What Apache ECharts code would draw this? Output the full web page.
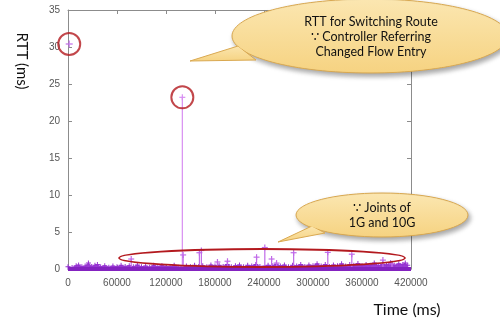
<!DOCTYPE html>
<html><head><meta charset="utf-8">
<script src="https://cdn.jsdelivr.net/npm/echarts@6/dist/echarts.min.js"></script>
<style>html,body{margin:0;padding:0;background:#fff}#c{width:500px;height:322px}</style>
</head><body><div id="c"></div>
<script>
// ---- data ----
const xTicks = [0, 60000, 120000, 180000, 240000, 300000, 360000, 420000];
const yTicks = [0, 5, 10, 15, 20, 25, 30, 35];
// background RTT noise [time ms, rtt ms]
const noise = [
[0,0.3],[5000,0.2],[10000,0.45],[13000,0.55],[17000,0.3],[21000,0.4],[25000,0.8],[29000,0.35],[33000,0.5],[36000,0.6],
[40000,0.3],[45000,0.45],[50000,0.25],[55000,0.4],[60000,0.3],[65000,0.5],[70000,0.35],[75000,0.45],[80000,0.3],[85000,0.55],
[90000,0.3],[95000,0.4],[100000,0.25],[105000,0.5],[110000,0.3],[115000,0.45],[120000,0.35],[125000,0.3],[130000,0.5],[135000,0.25],
[145000,0.4],[150000,0.3],[155000,0.5],[160000,0.35],[165000,0.45],[170000,0.3],[175000,0.55],[180000,0.4],[185000,0.5],[190000,0.35],
[195000,0.6],[200000,0.3],[205000,0.45],[210000,0.55],[215000,0.3],[220000,0.5],[225000,0.4],[230000,0.6],[235000,0.35],[245000,0.5],
[250000,0.45],[255000,0.65],[260000,0.4],[265000,0.55],[270000,0.3],[275000,0.5],[280000,0.4],[285000,0.6],[290000,0.35],[295000,0.55],
[300000,0.45],[305000,0.7],[310000,0.4],[315000,0.6],[320000,0.35],[325000,0.55],[330000,0.45],[335000,0.7],[340000,0.4],[345000,0.6],
[350000,0.5],[355000,0.75],[360000,0.45],[365000,0.6],[370000,0.5],[375000,0.8],[380000,0.45],[385000,0.65],[390000,0.55],[395000,0.85],
[400000,0.5],[405000,0.7],[410000,0.6],[413000,0.8],[416000,0.5]
];
// impulse spikes [time ms, rtt ms]
const spikes = [
[77400,1.35],[140000,23.2],[141000,1.9],[160900,2.2],[163300,2.5],[183000,0.95],[195300,1.05],
[230900,1.6],[241000,2.9],[249300,1.35],[255400,0.8],[276300,2.2],[318100,2.25],[347500,2.0],
[385600,1.2],[396700,0.7]
];
// first sample (route switching at start)
const startPoint = [[1500,30.4]];
// circled samples
const circled = [[1500,30.4],[140000,23.2]];

const plus = 'path://M4,0h2v4h4v2h-4v4h-2v-4h-4v-2h4z';
const axisGray = '#8c8c8c';
const lab = {color:'#555', fontSize:10, fontFamily:'Liberation Sans, Arial'};

const chart = echarts.init(document.getElementById('c'), null, {renderer:'canvas'});

function bubble(cx, cy, rx, ry, tail, z){
  const fill = new echarts.graphic.LinearGradient(0,0,0,1,[{offset:0,color:'#fbe6b0'},{offset:1,color:'#f6d382'}]);
  return [
    {type:'ellipse', shape:{cx, cy, rx, ry}, z:z, style:{fill, stroke:'#d9a850', lineWidth:1, shadowBlur:5, shadowOffsetX:2, shadowOffsetY:3, shadowColor:'rgba(0,0,0,0.35)'}},
    {type:'polygon', shape:{points:tail}, z:z+1, style:{fill, stroke:'#d9a850', lineWidth:1}},
    {type:'ellipse', shape:{cx, cy, rx:rx-1, ry:ry-1}, z:z+2, style:{fill}}
  ];
}

const axisCommon = {
  axisLine:{onZero:false, lineStyle:{color:axisGray}},
  axisTick:{show:true, inside:true, length:4, lineStyle:{color:axisGray}},
  splitLine:{show:false}
};

const option = {
  animation:false,
  grid:{left:68, right:89, top:10, bottom:53},
  xAxis:[
    Object.assign({type:'value', min:0, max:420000, interval:60000, position:'bottom',
     axisLabel:Object.assign({margin:9, formatter:v=>String(v)}, lab)}, axisCommon),
    Object.assign({type:'value', min:0, max:420000, interval:60000, position:'top',
     axisLabel:{show:false}}, axisCommon)
  ],
  yAxis:[
    Object.assign({type:'value', min:0, max:35, interval:5, position:'left',
     axisLabel:Object.assign({margin:8}, lab)}, axisCommon, {axisLine:{show:true, onZero:false, lineStyle:{color:axisGray}}}),
    Object.assign({type:'value', min:0, max:35, interval:5, position:'right',
     axisLabel:{show:false}}, axisCommon, {axisLine:{show:true, onZero:false, lineStyle:{color:axisGray}}})
  ],
  series:[
    {type:'line', data:noise, symbol:plus, symbolSize:5, showSymbol:true,
     lineStyle:{color:'#9632d2', width:1}, itemStyle:{color:'#9632d2'},
     areaStyle:{color:'#9a3cd4', opacity:1}, z:3,
     markLine:{silent:true, symbol:'none', label:{show:false},
       lineStyle:{color:'#8422c0', width:4, type:'solid'}, data:[{yAxis:0}]}},
    {type:'custom', data:spikes, z:4,
     renderItem:function(params, api){
       const t = api.value(0), v = api.value(1);
       const p0 = api.coord([t,0]), p1 = api.coord([t,v]);
       const col = v > 10 ? '#d88ef2' : '#c06ae8';
       return {type:'group', children:[
         {type:'line', shape:{x1:p0[0],y1:p0[1],x2:p1[0],y2:p1[1]}, style:{stroke:col, lineWidth:1.2}},
         {type:'line', shape:{x1:p1[0]-3,y1:p1[1],x2:p1[0]+3,y2:p1[1]}, style:{stroke:col, lineWidth:1.2}},
         {type:'line', shape:{x1:p1[0],y1:p1[1]-3,x2:p1[0],y2:p1[1]+3}, style:{stroke:col, lineWidth:1.2}}
       ]};
     }},
    {type:'scatter', data:startPoint, symbol:plus, symbolSize:7, itemStyle:{color:'#c06ae8'}, z:5},
    {type:'scatter', data:circled, symbol:'circle', symbolSize:22, z:6,
     itemStyle:{color:'rgba(0,0,0,0)', borderColor:'#b3191e', borderWidth:2}}
  ],
  graphic:[
    {type:'ellipse', shape:{cx:262, cy:258, rx:143, ry:9}, z:20, style:{fill:'none', stroke:'#b3191e', lineWidth:1.8}},
    ...bubble(370, 36, 138, 37, [[238,46],[190,61],[256,60]], 30),
    {type:'text', x:371, y:22, z:40, style:{text:'RTT for Switching Route', fill:'#111', font:'12.5px Lato', textAlign:'center', textVerticalAlign:'middle'}},
    {type:'text', x:371, y:37, z:40, style:{text:'∵ Controller Referring', fill:'#111', font:'12.5px Lato', textAlign:'center', textVerticalAlign:'middle'}},
    {type:'text', x:371, y:52, z:40, style:{text:'Changed Flow Entry', fill:'#111', font:'12.5px Lato', textAlign:'center', textVerticalAlign:'middle'}},
    ...bubble(382, 215, 86, 22, [[312,226],[278,242],[325,233]], 30),
    {type:'text', x:382, y:208, z:40, style:{text:'∵ Joints of', fill:'#111', font:'12.5px Lato', textAlign:'center', textVerticalAlign:'middle'}},
    {type:'text', x:382, y:223, z:40, style:{text:'1G and 10G', fill:'#111', font:'12.5px Lato', textAlign:'center', textVerticalAlign:'middle'}},
    {type:'text', x:22, y:61, rotation:-Math.PI/2, z:40, style:{text:'RTT (ms)', fill:'#111', font:'15px Lato', textAlign:'center', textVerticalAlign:'middle'}},
    {type:'text', x:407, y:310, z:40, style:{text:'Time (ms)', fill:'#111', font:'16px Lato', textAlign:'center', textVerticalAlign:'middle'}}
  ]
};
chart.setOption(option);
</script>
</body></html>
